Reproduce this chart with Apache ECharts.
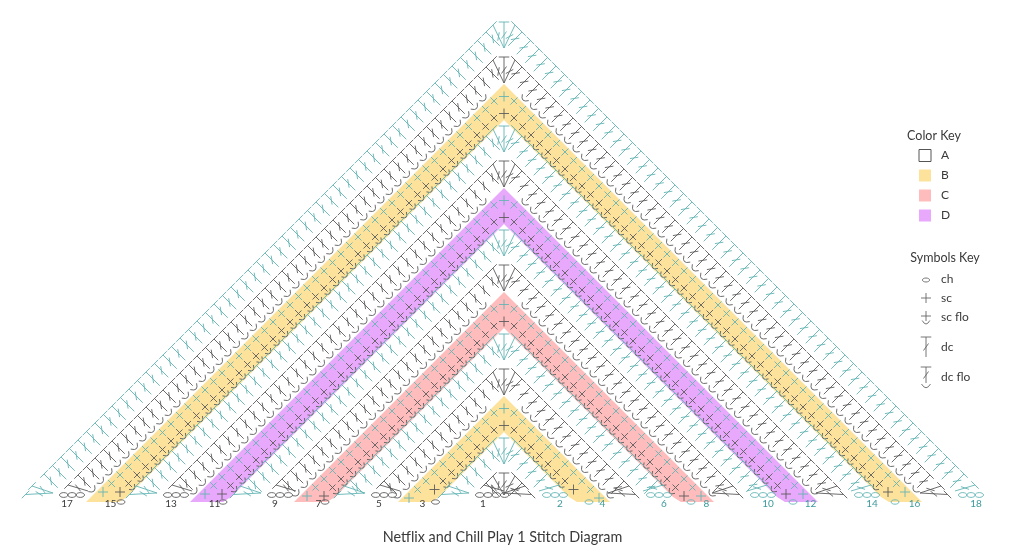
<!DOCTYPE html>
<html>
<head>
<meta charset="utf-8">
<title>Stitch Diagram</title>
<script src="https://cdn.jsdelivr.net/npm/echarts@6/dist/echarts.min.js"></script>
<style>
  html, body { margin: 0; padding: 0; background: #fff; }
  #chart { width: 1024px; height: 559px; }
</style>
</head>
<body>
<div id="chart"></div>
<script>
// rows, outermost first
var rowNumbers = [18, 17, 16, 15, 14, 13, 12, 11, 10, 9, 8, 7, 6, 5, 4, 3, 2, 1];
var rowStitch = ['dc', 'dc flo', 'sc', 'sc flo', 'dc', 'dc flo', 'sc', 'sc flo', 'dc', 'dc flo', 'sc', 'sc flo', 'dc', 'dc flo', 'sc', 'sc flo', 'dc', 'dc flo'];
var rowInk = ['teal', 'black', 'teal', 'black', 'teal', 'black', 'teal', 'black', 'teal', 'black', 'teal', 'black', 'teal', 'black', 'teal', 'black', 'teal', 'black'];
var rowTop = [14, 49, 91, 108, 118, 153, 195, 212, 222, 257, 299, 316, 326, 361, 403, 420, 430, 465];
var rowArmStitches = [53, 49, 47, 45, 41, 37, 35, 33, 29, 25, 23, 21, 17, 13, 11, 8, 4, 1];
var rowChains = [3, 3, 1, 1, 3, 3, 1, 1, 3, 3, 1, 1, 3, 3, 1, 1, 3, 4];

var bandTop = [84, 188, 292, 396];
var bandColorKey = ['B', 'D', 'C', 'B'];

var colorKeyLabels = ['A', 'B', 'C', 'D'];
var colorKeyFills = ['#ffffff', '#fde29c', '#ffbcbc', '#e8a8fb'];
var symbolKeyLabels = ['ch', 'sc', 'sc flo', 'dc', 'dc flo'];

var INK = { teal: '#64b4b4', black: '#5c5c5c' };
var LABEL_INK = { teal: '#3d9a9c', black: '#3a3a3a' };
var TEXT_COLOR = '#3a3a3a';
var FONT = 'Lato';
var STEP = 8.5;      // stitch spacing along an arm, in x
var RAD = Math.PI / 180;
var LW = 0.9;

var chart = echarts.init(document.getElementById('chart'));

// small drawing kit, everything goes through api.coord
function pen(api, kids, color) {
  function line(x1, y1, x2, y2) {
    var a = api.coord([x1, y1]), b = api.coord([x2, y2]);
    kids.push({ type: 'line', shape: { x1: a[0], y1: a[1], x2: b[0], y2: b[1] }, style: { stroke: color, lineWidth: LW, fill: null } });
  }
  function curve(x1, y1, cx, cy, x2, y2) {
    var a = api.coord([x1, y1]), b = api.coord([x2, y2]), c = api.coord([cx, cy]);
    kids.push({ type: 'bezierCurve', shape: { x1: a[0], y1: a[1], x2: b[0], y2: b[1], cpx1: c[0], cpy1: c[1] }, style: { stroke: color, lineWidth: LW, fill: null } });
  }
  function chain(x, y, rx, ry) {
    var a = api.coord([x, y]);
    kids.push({ type: 'ellipse', shape: { cx: a[0], cy: a[1], rx: rx, ry: ry }, style: { stroke: color, lineWidth: LW, fill: null } });
  }
  // local frame: a across the stitch, b up along it
  function local(x, y, deg) {
    var t = deg * RAD;
    return function(a, b) { return [x + a * Math.cos(t) + b * Math.sin(t), y + a * Math.sin(t) - b * Math.cos(t)]; };
  }
  function seg(f, a1, b1, a2, b2) {
    var p = f(a1, b1), q = f(a2, b2);
    line(p[0], p[1], q[0], q[1]);
  }
  function cup(f, a, b, depth) {
    var p = f(-a, b), c = f(0, b - depth), q = f(a, b);
    curve(p[0], p[1], c[0], c[1], q[0], q[1]);
  }
  // stem from foot (fx, fy) to head (tx, ty), bar laid at barDeg
  function dcTo(fx, fy, tx, ty, barDeg, withCup) {
    var dx = tx - fx, dy = ty - fy;
    var len = Math.sqrt(dx * dx + dy * dy);
    var f = local(fx, fy, Math.atan2(dx, -dy) / RAD);
    seg(f, 0, 0, 0, len);
    seg(f, -2.5, len * 0.5 - 3.5, 2.5, len * 0.5 + 3.5);
    var bar = local(tx, ty, barDeg);
    seg(bar, -5.3, 0, 5.3, 0);
    if (withCup) cup(f, 4.5, -1, 7.5);
  }
  return {
    chain: chain,
    dcTo: dcTo,
    // x, y is the centre of the cross
    sc: function(x, y, deg, withCup, along) {
      var f = local(x, y, deg);
      seg(f, -along, 0, along, 0);
      seg(f, 0, -5, 0, 5);
      if (withCup) cup(f, 3.8, -4.5, 7);
    }
  };
}

function renderBand(params, api) {
  var top = api.value(1);
  var inner = top + 36;
  var outerDx = 502 - top;
  var innerDx = 497 - inner;
  var pts = [
    [0, top], [outerDx, 502], [innerDx + 8, 502], [innerDx, 497], [0, inner],
    [-innerDx, 497], [-innerDx - 8, 502], [-outerDx, 502]
  ].map(function(p) { return api.coord(p); });
  return { type: 'polygon', shape: { points: pts }, style: { fill: api.value(2) } };
}

function renderSc(p, api, kids, i) {
  var top = rowTop[i], n = rowArmStitches[i], num = rowNumbers[i];
  var flo = rowStitch[i].indexOf('flo') > 0;
  var side = num % 2 === 0 ? 1 : -1;
  p.sc(0, top + 5.5, 0, false, 5);
  for (var s = -1; s <= 1; s += 2) {
    for (var k = 0; k < n; k++) {
      var dx = 10 + STEP * k;
      var end = k === n - 1;
      p.sc(s * dx, top + dx, end ? 0 : s * 45, flo && k > 1 && !end, end ? 5 : 4.2);
    }
  }
  var last = 10 + STEP * (n - 1);
  p.chain(side * (last - (side > 0 ? 10 : 1)), 502, 4, 2.2);
  pushLabel(kids, api, side * (501.5 - top), num, rowInk[i]);
}

function renderDc(p, api, kids, i) {
  var top = rowTop[i], n = rowArmStitches[i], num = rowNumbers[i];
  var flo = rowStitch[i].indexOf('flo') > 0;
  var side = num % 2 === 0 ? 1 : -1;   // the side where the chains sit
  var stem = (flo ? 18 : 19.5) * Math.SQRT1_2;
  var foot = Math.min(top + 34, 495);
  var k, s;

  p.dcTo(0, foot, 0, top + 8, 0, false);
  for (s = -1; s <= 1; s += 2) {
    p.dcTo(0, foot, s * 11, top + 11, s * 45, false);
    for (k = 0; k < n; k++) {
      var tx = 18 + STEP * k;
      p.dcTo(s * (tx - stem), top + tx + stem, s * tx, top + tx, s * 45, flo && k > 1);
    }
  }

  // both ends flatten out into a half fan, the chains sit under one of them
  var fx = Math.max(465 - top, 0);
  p.dcTo(-side * fx, 493, -side * (fx + 21), top + fx + 21, -side * 45, false);
  p.dcTo(side * fx, 491, side * (fx + 20), top + fx + 20, side * 45, false);
  p.dcTo(-side * fx, 493, -side * (496 - top - 3.5), 494.5, -side * 45, false);

  var outer = 493.5 - top;
  for (k = 0; k < rowChains[i]; k++) {
    p.chain(side * (outer - 4.2 - k * 8.3), 495, 4.2, 2.4);
  }
  pushLabel(kids, api, side * (486 - top), num, rowInk[i]);
}

function renderRow(params, api) {
  var i = api.value(2);
  var kids = [];
  var p = pen(api, kids, INK[rowInk[i]]);
  if (rowStitch[i].indexOf('sc') === 0) renderSc(p, api, kids, i);
  else renderDc(p, api, kids, i);
  return { type: 'group', children: kids };
}

function pushLabel(kids, api, dx, num, inkName) {
  var a = api.coord([dx, 504]);
  kids.push({
    type: 'text',
    style: { text: String(num), x: a[0], y: a[1], textAlign: 'center', textVerticalAlign: 'middle', font: '10px ' + FONT, fill: LABEL_INK[inkName] }
  });
}

function keyText(api, x, y, str, size, align) {
  var a = api.coord([x, y]);
  return { type: 'text', style: { text: str, x: a[0], y: a[1], textAlign: align || 'left', textVerticalAlign: 'middle', font: size + 'px ' + FONT, fill: TEXT_COLOR } };
}

// legend on the right, x is counted from the diagram's centre line
function renderColorKey(params, api) {
  var i = api.value(2);
  var a = api.coord([415, 149.5 + i * 20]), b = api.coord([427, 161.5 + i * 20]);
  return {
    type: 'group',
    children: [
      { type: 'rect', shape: { x: a[0], y: a[1], width: b[0] - a[0], height: b[1] - a[1] },
        style: { fill: colorKeyFills[i], stroke: i === 0 ? '#555' : null, lineWidth: 1 } },
      keyText(api, 437, 155.5 + i * 20, colorKeyLabels[i], 12)
    ]
  };
}

function renderSymbolKey(params, api) {
  var i = api.value(2);
  var kids = [];
  var p = pen(api, kids, '#666');
  var name = symbolKeyLabels[i];
  var ys = [279.5, 298, 317, 347.5, 377];
  if (name === 'ch') p.chain(422, 280, 3.6, 2);
  if (name === 'sc') p.sc(422, 298, 0, false, 5);
  if (name === 'sc flo') p.sc(422, 316, 0, true, 5);
  if (name === 'dc') p.dcTo(422, 357, 422, 337, 0, false);
  if (name === 'dc flo') p.dcTo(422, 383, 422, 367, 0, true);
  kids.push(keyText(api, 437, ys[i], name, 12));
  return { type: 'group', children: kids };
}

function renderHeads(params, api) {
  return {
    type: 'group',
    children: [
      keyText(api, 430, 135.5, 'Color Key', 12.5, 'center'),
      keyText(api, 441, 257.5, 'Symbols Key', 12.5, 'center')
    ]
  };
}

function customSeries(render, data, z) {
  return {
    type: 'custom',
    coordinateSystem: 'cartesian2d',
    renderItem: render,
    encode: { x: 0, y: 1 },
    data: data,
    z: z,
    clip: false,
    silent: true,
    animation: false
  };
}

var bandData = bandTop.map(function(t, i) {
  return [0, t, colorKeyFills[colorKeyLabels.indexOf(bandColorKey[i])]];
});
var rowData = rowNumbers.map(function(n, i) { return [0, rowTop[i], i]; });

chart.setOption({
  animation: false,
  backgroundColor: '#fff',
  title: {
    text: 'Netflix and Chill Play 1 Stitch Diagram',
    left: 497.5,
    top: 525,
    textAlign: 'center',
    textStyle: { color: TEXT_COLOR, fontFamily: FONT, fontSize: 14.4, fontWeight: 'normal' }
  },
  grid: { left: 0, right: 0, top: 0, bottom: 0 },
  xAxis: { type: 'value', min: -504, max: 520, show: false },
  yAxis: { type: 'value', min: 0, max: 559, inverse: true, show: false },
  series: [
    customSeries(renderBand, bandData, 1),
    customSeries(renderRow, rowData, 2),
    customSeries(renderColorKey, colorKeyLabels.map(function(l, i) { return [422, 155, i]; }), 3),
    customSeries(renderSymbolKey, symbolKeyLabels.map(function(l, i) { return [422, 300, i]; }), 3),
    customSeries(renderHeads, [[430, 135, 0]], 3)
  ]
});
</script>
</body>
</html>
